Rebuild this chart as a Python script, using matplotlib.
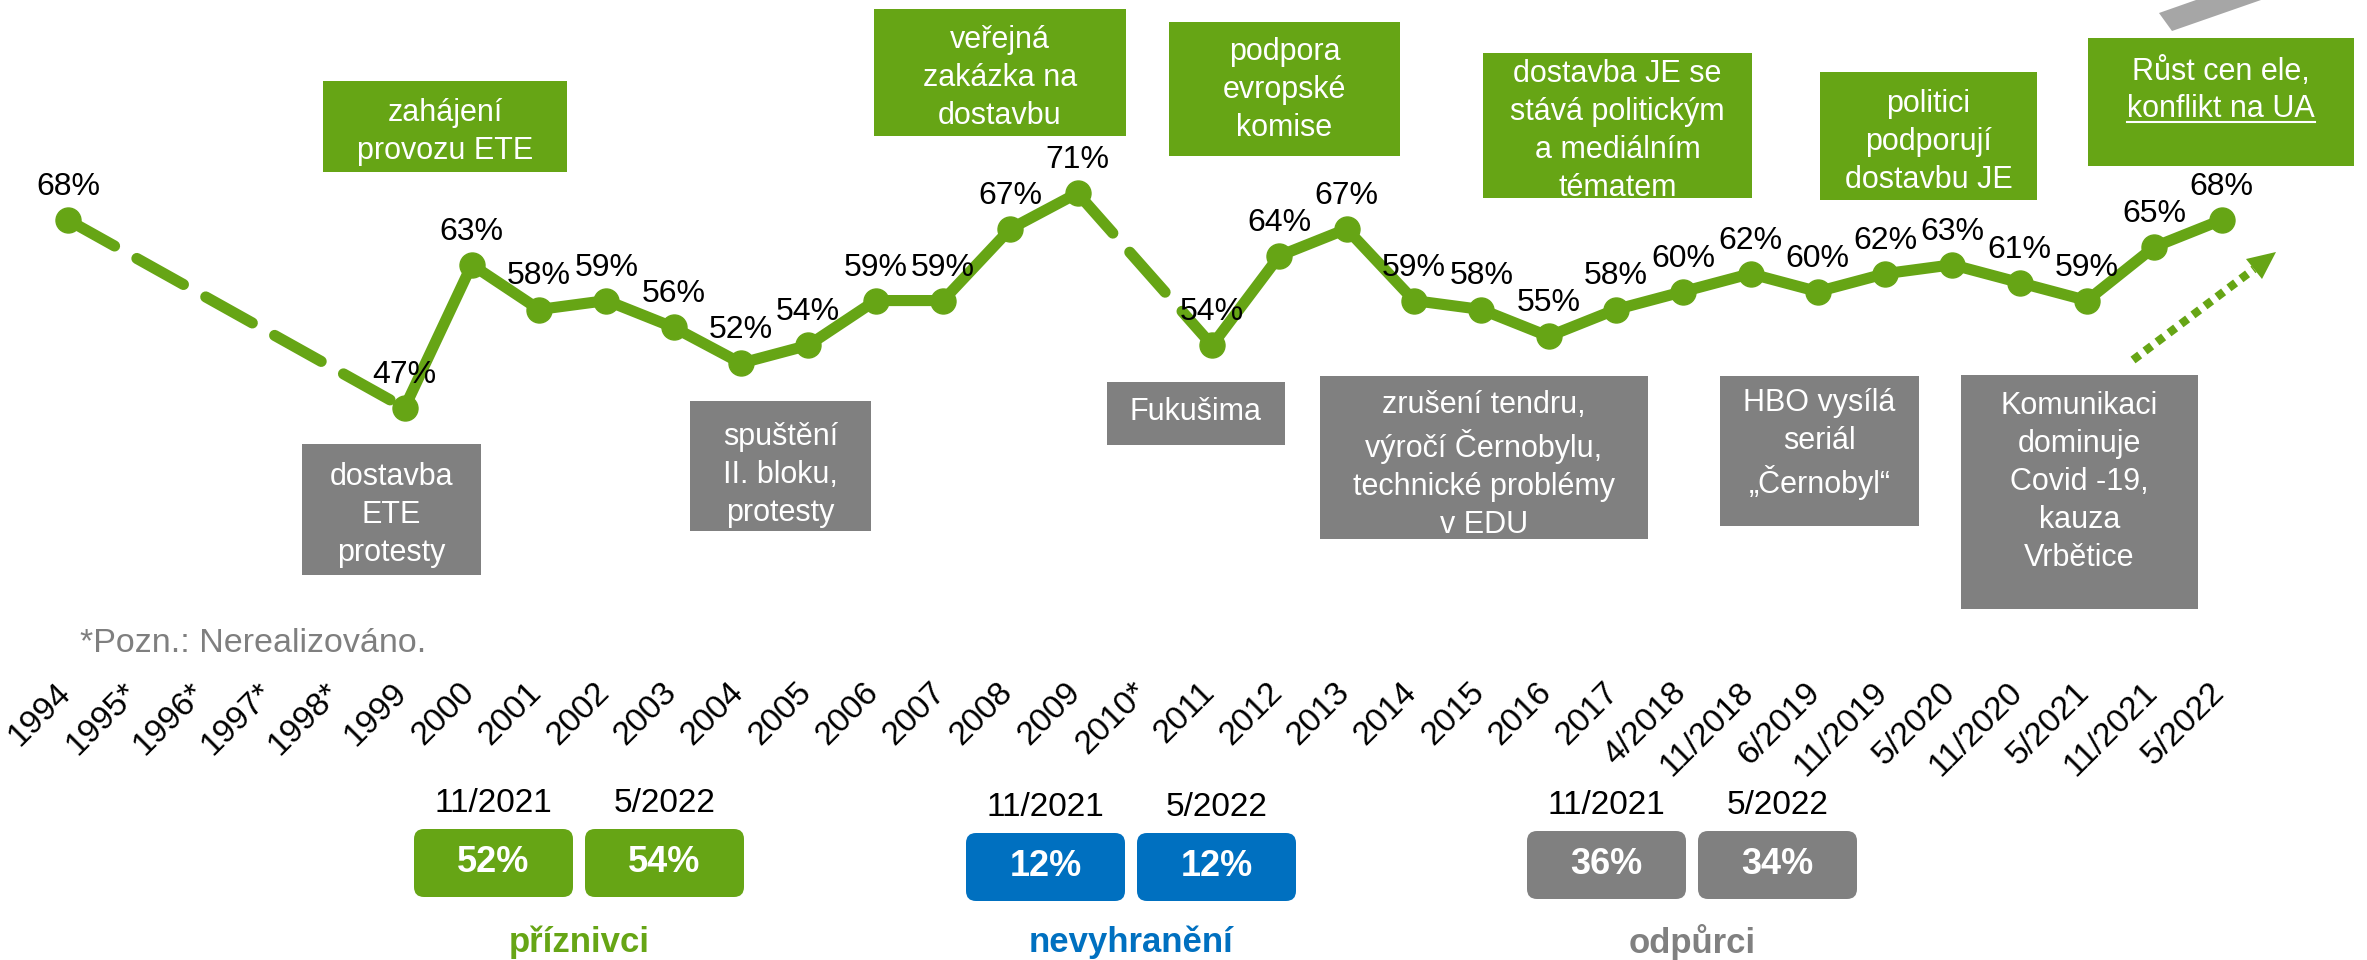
import matplotlib.pyplot as plt
import matplotlib.patches as mpatches
from matplotlib.lines import Line2D
from matplotlib.transforms import ScaledTranslation
import numpy as np

plt.rcParams['font.family'] = ['Liberation Sans', 'DejaVu Sans']

# data
labels = ['1994', '1995*', '1996*', '1997*', '1998*', '1999', '2000', '2001', '2002', '2003',
          '2004', '2005', '2006', '2007', '2008', '2009', '2010*', '2011', '2012', '2013',
          '2014', '2015', '2016', '2017', '4/2018', '11/2018', '6/2019', '11/2019', '5/2020',
          '11/2020', '5/2021', '11/2021', '5/2022']
support = [68, None, None, None, None, 47, 63, 58, 59, 56, 52, 54, 59, 59, 67, 71, None,
           54, 64, 67, 59, 58, 55, 58, 60, 62, 60, 62, 63, 61, 59, 65, 68]

groups = ['příznivci', 'nevyhranění', 'odpůrci']
periods = ['11/2021', '5/2022']
share_1121 = [52, 12, 36]
share_0522 = [54, 12, 34]

GREEN = '#66A515'
BLUE = '#0070C0'
GRAY = '#808080'
W, H = 2367, 960

fig = plt.figure(figsize=(W / 100, H / 100), dpi=100)
inch = fig.dpi_scale_trans


def pt(x, y):
    # pixel (top-left origin) -> inches
    return x / 100, (H - y) / 100


def box(x0, y0, x1, y1, color, rounded=False):
    if rounded:
        p = mpatches.FancyBboxPatch(pt(x0, y1), (x1 - x0) / 100, (y1 - y0) / 100,
                                    boxstyle='round,pad=0,rounding_size=0.1',
                                    transform=inch, facecolor=color, edgecolor='none')
    else:
        p = mpatches.Rectangle(pt(x0, y1), (x1 - x0) / 100, (y1 - y0) / 100,
                               transform=inch, facecolor=color, edgecolor='none')
    fig.add_artist(p)


def label(x, y, s, **kw):
    return fig.text(*pt(x, y), s, transform=inch, **kw)


# main line chart
step, x0px = 67.3, 68
ax = fig.add_axes([0, 1 - 670 / H, 1, 670 / H])
ax.patch.set_alpha(0)
x = np.arange(len(labels))
y = np.array([np.nan if v is None else v for v in support], dtype=float)

ax.plot(x, y, color=GREEN, lw=8, marker='o', ms=18,
        solid_capstyle='round', solid_joinstyle='round', zorder=3)

# dashed connection across missing surveys
idx = np.where(~np.isnan(y))[0]
for a, b in zip(idx[:-1], idx[1:]):
    if b - a > 1:
        ax.plot([a, b], [y[a], y[b]], color=GREEN, lw=8, ls=(0, (4.8, 2.3)),
                dash_capstyle='round', zorder=2)

for i in idx:
    ax.annotate(f'{int(y[i])}%', (i, y[i]), xytext=(0, 18), textcoords='offset points',
                ha='center', va='baseline', fontsize=23)

ax.set_xlim(-x0px / step, (W - x0px) / step)
ax.set_ylim(68 - 450 / 8.95, 68 + 220 / 8.95)
ax.set_xticks(x)
ax.set_xticklabels(labels, rotation=45, ha='right', va='top', fontsize=24)
ax.tick_params(axis='x', length=0, pad=5)
ax.set_yticks([])
for lbl in ax.get_xticklabels():
    lbl.set_transform(lbl.get_transform() + ScaledTranslation(9 / 100, 0, inch))
for s in ax.spines.values():
    s.set_visible(False)

# event notes above (green) and below (gray)
top_notes = [
    ((323, 81, 567, 172), 'zahájení\nprovozu ETE', 132),
    ((874, 9, 1126, 136), 'veřejná\nzakázka na\ndostavbu', 78),
    ((1169, 22, 1400, 156), 'podpora\nevropské\nkomise', 90),
    ((1483, 53, 1752, 198), 'dostavba JE se\nstává politickým\na mediálním\ntématem', 131),
    ((1820, 72, 2037, 200), 'politici\npodporují\ndostavbu JE', 142),
]
bottom_notes = [
    ((302, 444, 481, 575), 'dostavba\nETE\nprotesty', 515),
    ((690, 401, 871, 531), 'spuštění\nII. bloku,\nprotesty', 475),
    ((1107, 382, 1285, 445), 'Fukušima', 412),
    ((1320, 376, 1648, 539), 'zrušení tendru,\nvýročí Černobylu,\ntechnické problémy\nv EDU', 465),
    ((1720, 376, 1919, 526), 'HBO vysílá\nseriál\n„Černobyl“', 444),
    ((1961, 375, 2198, 609), 'Komunikaci\ndominuje\nCovid -19,\nkauza\nVrbětice', 482),
]
for (bx0, by0, bx1, by1), txt, ty in top_notes:
    box(bx0, by0, bx1, by1, GREEN)
    label((bx0 + bx1) / 2, ty, txt, ha='center', va='center', color='white',
          fontsize=22, linespacing=1.35)
for (bx0, by0, bx1, by1), txt, ty in bottom_notes:
    box(bx0, by0, bx1, by1, GRAY)
    label((bx0 + bx1) / 2, ty, txt, ha='center', va='center', color='white',
          fontsize=22, linespacing=1.35)

# last note with underlined link text
box(2088, 38, 2354, 166, GREEN)
label(2221, 80, 'Růst cen ele,', ha='center', va='baseline', color='white', fontsize=22)
link = label(2221, 117, 'konflikt na UA', ha='center', va='baseline', color='white', fontsize=22)
fig.canvas.draw()
bb = link.get_window_extent()
fig.add_artist(Line2D([bb.x0 / 100, bb.x1 / 100], [(H - 122) / 100] * 2,
                      transform=inch, color='white', lw=1.5))

# trend arrows
fig.add_artist(mpatches.Polygon([pt(2159, 13), pt(2172, 31), pt(2261, 0), pt(2196, 0)],
                                transform=inch, facecolor='#A6A6A6', edgecolor='none'))
fig.add_artist(Line2D([2133 / 100, 2254 / 100], [(H - 360) / 100, (H - 269) / 100],
                      transform=inch, color=GREEN, lw=6, ls=(0, (1, 0.8)),
                      dash_capstyle='butt'))
fig.add_artist(mpatches.Polygon([pt(2276, 252), pt(2262, 279), pt(2246, 259)],
                                transform=inch, facecolor=GREEN, edgecolor='none'))

label(80, 652, '*Pozn.: Nerealizováno.', ha='left', va='baseline', color='#7F7F7F', fontsize=24.5)

# current split of opinions
colors = [GREEN, BLUE, GRAY]
box_left = [414, 966, 1527]
box_top = [829, 833, 831]
bw, bh, gap = 159, 68, 12
for g, name in enumerate(groups):
    for k, val in enumerate([share_1121[g], share_0522[g]]):
        bx = box_left[g] + k * (bw + gap)
        box(bx, box_top[g], bx + bw, box_top[g] + bh, colors[g], rounded=True)
        label(bx + bw / 2, box_top[g] + bh / 2, f'{val}%', ha='center', va='center',
              color='white', fontsize=26, fontweight='bold')
        label(bx + bw / 2, box_top[g] - 25, periods[k], ha='center', va='center',
              color='black', fontsize=24)
    label(box_left[g] + bw + gap / 2, 942, name, ha='center', va='center',
          color=colors[g], fontsize=25, fontweight='bold')

fig.savefig('out.png', dpi=100)
